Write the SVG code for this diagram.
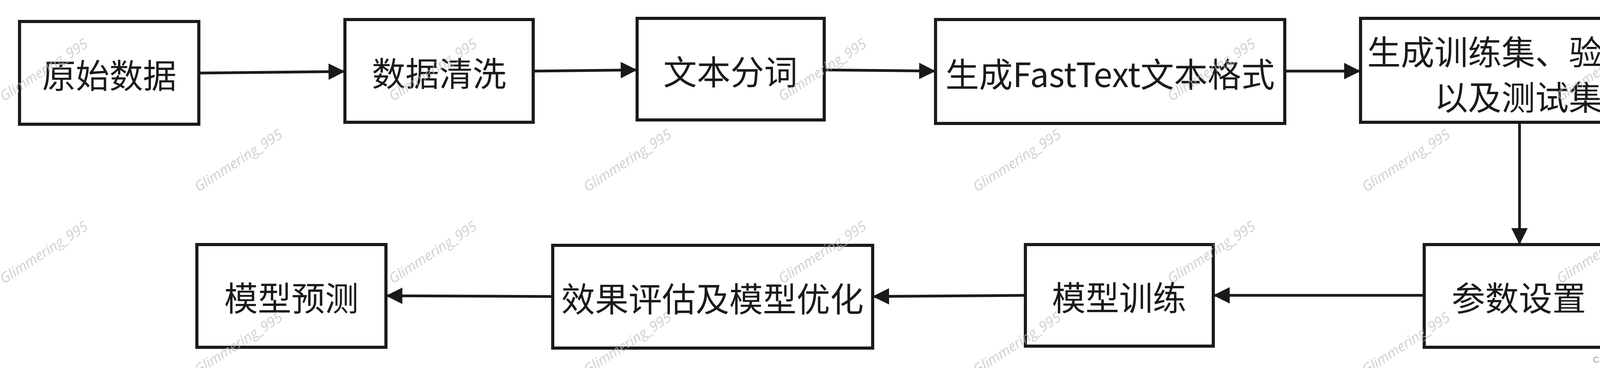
<svg xmlns="http://www.w3.org/2000/svg" width="4341" height="942" viewBox="0 0 4341 942">
<defs>
<style>
.box{fill:#fff;stroke:#1a1a1a;stroke-width:8}
.t{font-family:"Noto Sans CJK SC","Liberation Serif",serif;font-size:86px;fill:#1a1a1a;text-anchor:middle;dominant-baseline:central}
.c{stroke:#1a1a1a;stroke-width:7;fill:none;marker-end:url(#a)}
.w{font-family:"Open Sans","DejaVu Sans",sans-serif;font-size:36px;fill:#bbb;fill-opacity:0.7;font-style:italic}
</style>
<marker id="a" markerWidth="6" markerHeight="6" refX="6" refY="3" orient="auto" markerUnits="strokeWidth"><path d="M0,0 L6,3 L0,6 Z" fill="#1a1a1a"/></marker>
</defs>
<rect width="4341" height="942" fill="#fff"/>
<g id="connectors">
<path class="c" d="M509,187 L883,183"/>
<path class="c" d="M1365,182 L1631,179"/>
<path class="c" d="M2110,179 L2395,182"/>
<path class="c" d="M3289,182 L3483,182"/>
<path class="c" d="M3890,313 L3890,626"/>
<path class="c" d="M3646,756 L3106,756"/>
<path class="c" d="M2625,756 L2234,759"/>
<path class="c" d="M1415,759 L988,757"/>
</g>
<g id="n1"><rect class="box" x="50" y="55" width="459" height="263"/><text class="t" x="280" y="188">原始数据</text></g>
<g id="n2"><rect class="box" x="883" y="50" width="482" height="263"/><text class="t" x="1124" y="183">数据清洗</text></g>
<g id="n3"><rect class="box" x="1631" y="47" width="479" height="260"/><text class="t" x="1870" y="179">文本分词</text></g>
<g id="n4"><rect class="box" x="2395" y="50" width="894" height="266"/><text class="t" x="2842" y="185">生成FastText文本格式</text></g>
<g id="n5"><rect class="box" x="3483" y="47" width="808" height="266"/><text class="t" x="3887" y="128">生成训练集、验证集</text><text class="t" x="3887" y="244">以及测试集</text></g>
<g id="n6"><rect class="box" x="3646" y="626" width="485" height="263"/><text class="t" x="3888" y="758">参数设置</text></g>
<g id="n7"><rect class="box" x="2625" y="626" width="481" height="260"/><text class="t" x="2865" y="757">模型训练</text></g>
<g id="n8"><rect class="box" x="1415" y="628" width="819" height="263"/><text class="t" x="1824" y="760">效果评估及模型优化</text></g>
<g id="n9"><rect class="box" x="504" y="626" width="484" height="263"/><text class="t" x="746" y="758">模型预测</text></g>
<g id="watermarks">
<text class="w" transform="translate(10,260) rotate(-33)">Glimmering_995</text>
<text class="w" transform="translate(1006,260) rotate(-33)">Glimmering_995</text>
<text class="w" transform="translate(2003,260) rotate(-33)">Glimmering_995</text>
<text class="w" transform="translate(2999,260) rotate(-33)">Glimmering_995</text>
<text class="w" transform="translate(3995,260) rotate(-33)">Glimmering_995</text>
<text class="w" transform="translate(508,492) rotate(-33)">Glimmering_995</text>
<text class="w" transform="translate(1504,492) rotate(-33)">Glimmering_995</text>
<text class="w" transform="translate(2501,492) rotate(-33)">Glimmering_995</text>
<text class="w" transform="translate(3497,492) rotate(-33)">Glimmering_995</text>
<text class="w" transform="translate(10,727) rotate(-33)">Glimmering_995</text>
<text class="w" transform="translate(1006,727) rotate(-33)">Glimmering_995</text>
<text class="w" transform="translate(2003,727) rotate(-33)">Glimmering_995</text>
<text class="w" transform="translate(2999,727) rotate(-33)">Glimmering_995</text>
<text class="w" transform="translate(3995,727) rotate(-33)">Glimmering_995</text>
<text class="w" transform="translate(508,960) rotate(-33)">Glimmering_995</text>
<text class="w" transform="translate(1504,960) rotate(-33)">Glimmering_995</text>
<text class="w" transform="translate(2501,960) rotate(-33)">Glimmering_995</text>
<text class="w" transform="translate(3497,960) rotate(-33)">Glimmering_995</text>
<text x="4330" y="928" font-family="'Liberation Sans','Noto Sans CJK SC',sans-serif" font-size="22" fill="#999" text-anchor="end">CSDN @Glimmering_995</text>
</g>
</svg>
